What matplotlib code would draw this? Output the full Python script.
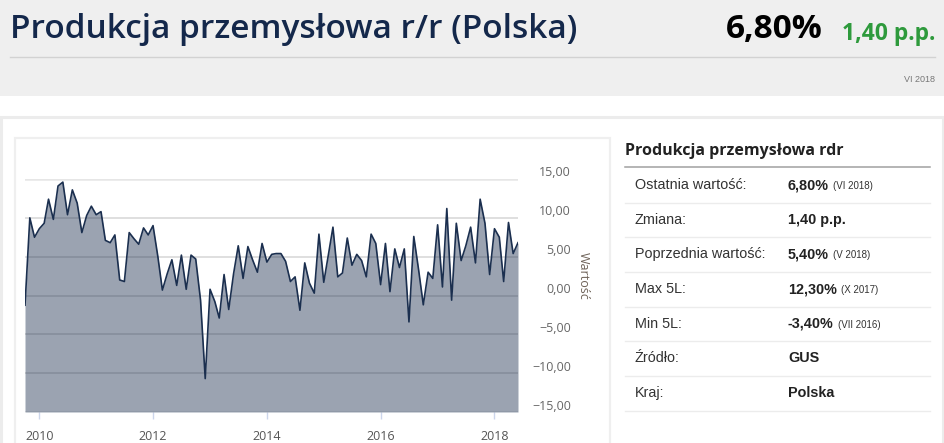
import matplotlib
matplotlib.use("Agg")
import matplotlib.pyplot as plt
import matplotlib.dates as mdates
from matplotlib.patches import Rectangle
from matplotlib.lines import Line2D
from matplotlib.transforms import ScaledTranslation
import pandas as pd

# monthly y/y industrial production, Oct 2009 .. Jun 2018
start_month = "2009-10"
values = [
    -1.25, 10.0, 7.5, 8.6, 9.3, 12.4, 9.8, 14.1, 14.6, 10.4, 13.6, 11.9,
    8.1, 10.3, 11.5, 10.4, 10.8, 7.1, 6.8, 7.8, 2.0, 1.8, 8.1, 7.3,
    6.6, 8.7, 7.8, 9.0, 5.0, 0.7, 2.8, 4.6, 1.3, 5.2, 0.8, 5.2,
    4.7, -0.6, -10.7, 0.8, -0.8, -2.9, 2.7, -1.8, 2.8, 6.4, 2.2, 6.3,
    4.6, 3.0, 6.7, 4.3, 5.3, 5.4, 5.4, 4.4, 1.8, 2.4, -1.9, 4.2,
    1.6, 0.3, 7.9, 1.7, 5.4, 8.8, 2.4, 2.9, 7.4, 3.9, 5.3, 4.5,
    2.4, 7.9, 6.7, 1.4, 6.7, 0.5, 6.0, 3.6, 6.0, -3.4, 7.6, 3.3,
    -1.2, 3.0, 2.2, 9.1, 1.1, 11.2, -0.6, 9.3, 4.5, 6.4, 8.8, 4.2,
    12.4, 9.3, 2.7, 8.6, 7.5, 1.8, 9.4, 5.4, 6.8,
]
y_ticks = [-15, -10, -5, 0, 5, 10, 15]
x_tick_years = [2010, 2012, 2014, 2016, 2018]

title = "Produkcja przemysłowa r/r (Polska)"
last_value = "6,80%"
change = "1,40 p.p."
period = "VI 2018"

panel_title = "Produkcja przemysłowa rdr"
row_labels = ["Ostatnia wartość:", "Zmiana:", "Poprzednia wartość:", "Max 5L:",
              "Min 5L:", "Źródło:", "Kraj:"]
row_values = ["6,80%", "1,40 p.p.", "5,40%", "12,30%", "-3,40%", "GUS", "Polska"]
row_notes = ["(VI 2018)", "", "(V 2018)", "(X 2017)", "(VII 2016)", "", ""]

W, H = 945, 443
NAVY = "#1b2f4f"

dates = pd.date_range(start_month, periods=len(values), freq="MS")

fig = plt.figure(figsize=(W / 100, H / 100), dpi=100)
fig.patch.set_facecolor("white")


def fx(x):
    return x / W


def fy(y):
    return 1 - y / H


def box(x0, y0, x1, y1, **kw):
    fig.add_artist(Rectangle((fx(x0), fy(y1)), fx(x1) - fx(x0), fy(y0) - fy(y1),
                             transform=fig.transFigure, zorder=-5, **kw))


def hline(x0, x1, y, color, lw=1):
    fig.add_artist(Line2D([fx(x0), fx(x1)], [fy(y), fy(y)], color=color, lw=lw,
                          transform=fig.transFigure))


# header band
box(0, 0, W, 96, facecolor="#efefef", edgecolor="none")
fig.text(fx(10), fy(30), title, fontsize=24, color="#14284b", family="Open Sans",
         weight="semibold", va="center", ha="left")
fig.text(fx(823), fy(30), last_value, fontsize=24, color="black", family="Open Sans",
         weight="bold", va="center", ha="right")
fig.text(fx(935), fy(34), change, fontsize=16.5, color="#2e9a3c", family="Open Sans",
         weight="bold", va="center", ha="right")
hline(10, 935, 57, "#d2d2d2")
fig.text(fx(935), fy(79), period, fontsize=6.5, color="#777777",
         family="Liberation Sans", va="center", ha="right")

# panels
box(1.5, 117.5, W - 2, H + 5, facecolor="white", edgecolor="#ececec", lw=2.2)
box(15, 138, 610, H + 5, facecolor="white", edgecolor="#efefef", lw=1.6)

# chart
ax = fig.add_axes([fx(25), fy(412), fx(518) - fx(25), fy(179) - fy(412)])
ax.set_zorder(5)
ax.set_facecolor("none")
ax.set_xlim(dates[0], dates[-1])
ax.set_ylim(y_ticks[0], y_ticks[-1])
for v in y_ticks:
    edge = v in (y_ticks[0], y_ticks[-1])
    ax.axhline(v, color="#e6e6e6" if edge else "#d6d6d6", lw=1.8 if edge else 1.1,
               zorder=1)
ax.fill_between(dates, values, y_ticks[0], color=NAVY, alpha=0.44, lw=0, zorder=2)
ax.plot(dates, values, color=NAVY, lw=1.2, zorder=3)

for s in ax.spines.values():
    s.set_visible(False)
ax.yaxis.tick_right()
ax.set_yticks(y_ticks)
ax.set_yticklabels([f"{v:.2f}".replace(".", ",").replace("-", "\u2212") for v in y_ticks],
                   fontsize=9, color="#666666", family="Open Sans", ha="right")
ax.tick_params(axis="y", length=0, pad=38)
nudge = ScaledTranslation(0, 0.025, fig.dpi_scale_trans)
for lab in ax.get_yticklabels():
    lab.set_verticalalignment("baseline")
    lab.set_transform(lab.get_transform() + nudge)

ax.set_xticks([pd.Timestamp(f"{yr}-01-01") for yr in x_tick_years])
ax.xaxis.set_major_formatter(mdates.DateFormatter("%Y"))
ax.tick_params(axis="x", length=5, width=1, color="#ccd6eb", pad=8,
               labelsize=9, labelcolor="#555555")
for lab in ax.get_xticklabels():
    lab.set_family("Open Sans")

fig.text(fx(583), fy(276), "Wartość", rotation=270, fontsize=9, color="#6e6258",
         family="Open Sans", va="center", ha="center")

# side table
fig.text(fx(625), fy(151), panel_title, fontsize=11.5, color="#222222",
         family="Open Sans", weight="bold", va="center", ha="left")
hline(625, 930, 167, "#a0a0a0", lw=1.1)
row_h = 34.7
for i, (lab, val, note) in enumerate(zip(row_labels, row_values, row_notes)):
    yc = 185 + i * row_h
    fig.text(fx(635), fy(yc), lab, fontsize=10.4, color="#333333",
             family="Liberation Sans", va="center", ha="left")
    t = fig.text(fx(788), fy(yc), val, fontsize=10.4, color="#222222",
                 family="Liberation Sans", weight="bold", va="center", ha="left")
    if note:
        fig.canvas.draw()
        bb = t.get_window_extent()
        fig.text(bb.x1 / W + fx(4), fy(yc + 1), note, fontsize=7, color="#333333",
                 family="Liberation Sans", va="center", ha="left")
    hline(625, 930, yc + 17.5, "#ececec", lw=1)

fig.savefig("out.png", dpi=100)
